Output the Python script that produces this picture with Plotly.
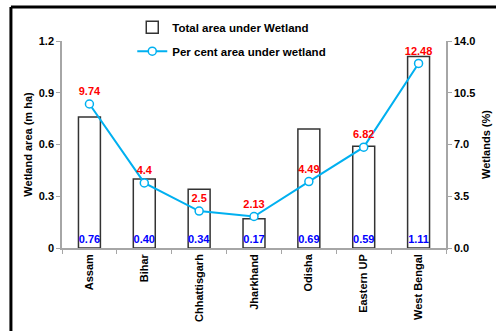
import plotly.graph_objects as go

states = ["Assam", "Bihar", "Chhattisgarh", "Jharkhand", "Odisha", "Eastern UP", "West Bengal"]
area_mha = [0.76, 0.40, 0.34, 0.17, 0.69, 0.59, 1.11]
area_labels = ["0.76", "0.40", "0.34", "0.17", "0.69", "0.59", "1.11"]
percent_area = [9.74, 4.4, 2.5, 2.13, 4.49, 6.82, 12.48]
percent_labels = ["9.74", "4.4", "2.5", "2.13", "4.49", "6.82", "12.48"]
left_ticks = [0, 0.3, 0.6, 0.9, 1.2]
left_ticktext = ["0", "0.3", "0.6", "0.9", "1.2"]
right_ticks = [0, 3.5, 7.0, 10.5, 14.0]

FONT = "Liberation Sans, Arial, sans-serif"
AX = "#a6a6a6"

fig = go.Figure()
fig.add_trace(go.Bar(
    x=states, y=area_mha, name="Total area under Wetland",
    marker=dict(color="white", line=dict(color="#333333", width=1.5)),
    width=0.4,
    text=area_labels, textposition="inside", insidetextanchor="start",
    textangle=0, constraintext="none",
    textfont=dict(family=FONT, size=11, color="#0000ff", weight="bold"),
    legend="legend",
))
fig.add_trace(go.Scatter(
    x=states, y=percent_area, yaxis="y2", name="Per cent area under wetland",
    mode="lines+markers+text",
    line=dict(color="#00b0f0", width=2),
    marker=dict(symbol="circle", size=8, color="white", line=dict(color="#00b0f0", width=1.5)),
    text=percent_labels, textposition="top center",
    textfont=dict(family=FONT, size=11, color="#ff0000", weight="bold"),
    legend="legend2",
))

fig.update_layout(
    width=496, height=331,
    margin=dict(l=62, r=50, t=41, b=83, autoexpand=False),
    paper_bgcolor="white", plot_bgcolor="white",
    font=dict(family=FONT, size=11, color="black", weight="bold"),
    showlegend=True,
    legend=dict(x=0.183, y=1.066, xanchor="left", yanchor="middle",
                bgcolor="rgba(0,0,0,0)", font=dict(size=11.5, weight="bold")),
    legend2=dict(x=0.183, y=0.951, xanchor="left", yanchor="middle",
                 bgcolor="rgba(0,0,0,0)", font=dict(size=11.5, weight="bold")),
    xaxis=dict(
        tickangle=-90, showline=True, linecolor=AX, linewidth=1.5,
        ticks="outside", tickson="boundaries", ticklen=4, tickcolor=AX,
        showgrid=False, tickfont=dict(size=11, weight="bold"),
    ),
    yaxis=dict(
        range=[0, 1.2], tickvals=left_ticks, ticktext=left_ticktext,
        showline=True, linecolor=AX, linewidth=1.5, ticks="outside", ticklen=4,
        tickcolor=AX, showgrid=False, zeroline=False,
        title=dict(text="Wetland area (m ha)", font=dict(size=11, weight="bold"), standoff=4),
    ),
    yaxis2=dict(
        range=[0, 14], tickvals=right_ticks, tickformat=".1f",
        overlaying="y", side="right",
        showline=True, linecolor=AX, linewidth=1.5, ticks="outside", ticklen=4,
        tickcolor=AX, showgrid=False, zeroline=False,
        title=dict(text="Wetlands (%)", font=dict(size=11, weight="bold"), standoff=8),
    ),
    shapes=[
        dict(type="line", xref="paper", yref="paper", x0=-0.133, x1=1.2, y0=1.164, y1=1.164,
             line=dict(color="black", width=3)),
        dict(type="line", xref="paper", yref="paper", x0=-0.133, x1=-0.133, y0=1.164, y1=-0.5,
             line=dict(color="black", width=3)),
    ],
)

fig.write_html("out.html")
